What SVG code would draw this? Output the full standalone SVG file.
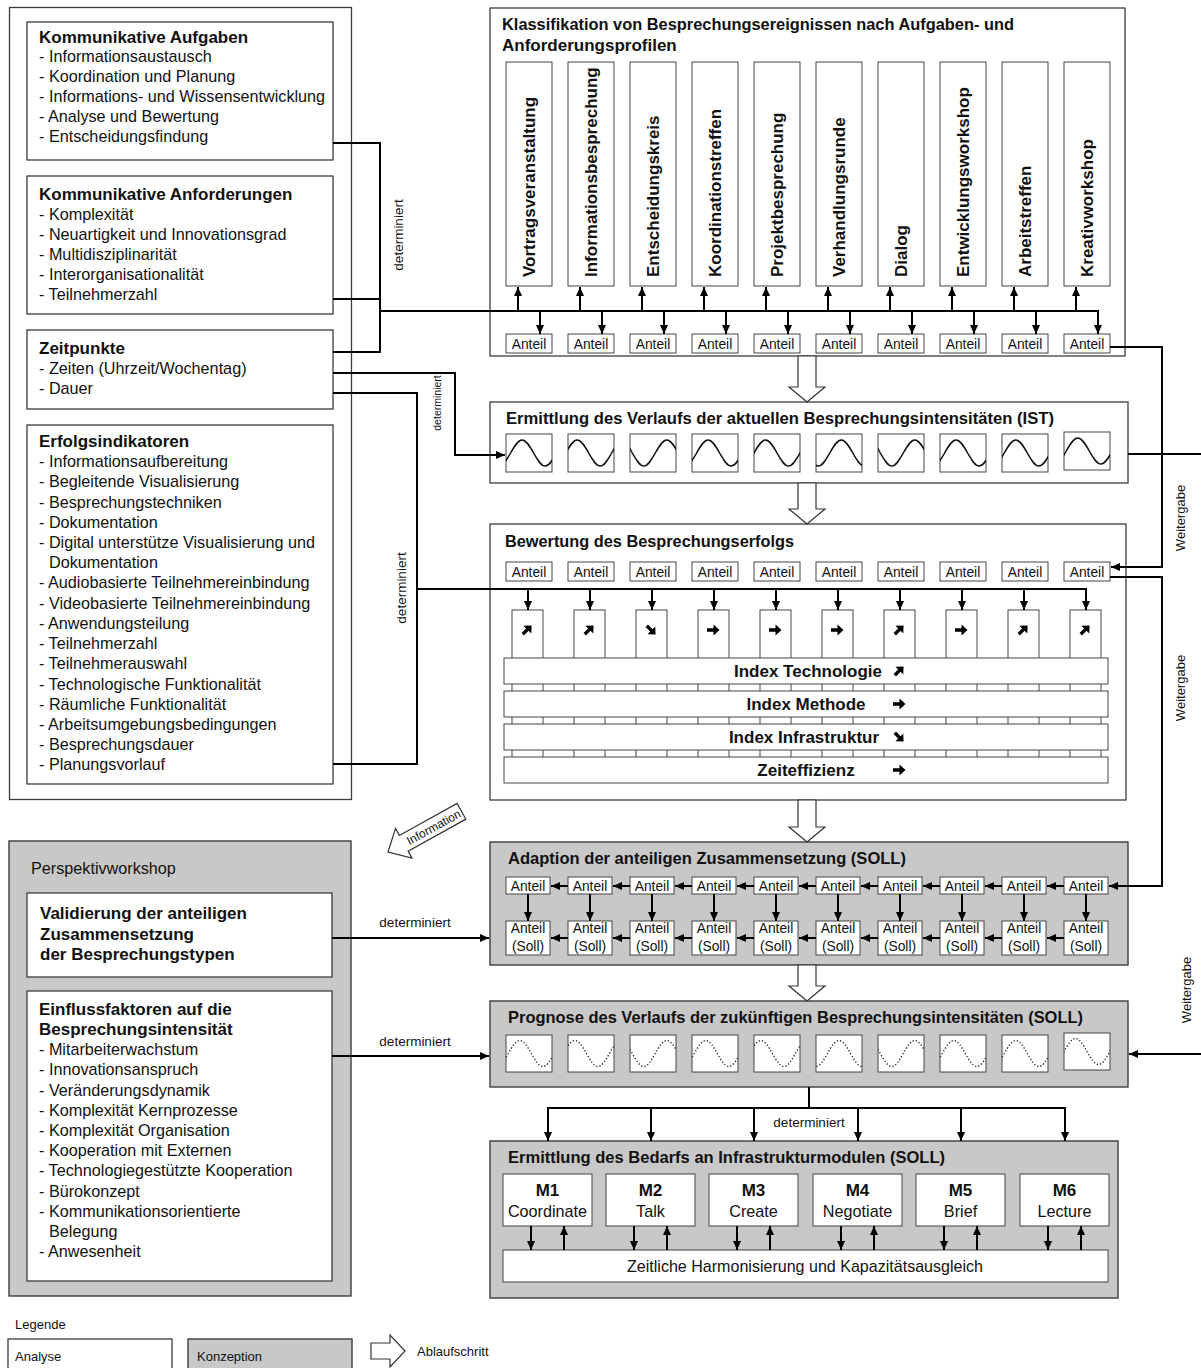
<svg xmlns="http://www.w3.org/2000/svg" width="1201" height="1368" viewBox="0 0 1201 1368">
<style>
text{font-family:"Liberation Sans",Arial,sans-serif;fill:#111}
.b{font-size:17px;font-weight:bold}
.r{font-size:16.2px}
.a{font-size:13px}
.an{font-size:13.8px}
.lab{font-size:13.5px}
.c{text-anchor:middle}
.box{fill:#fff;stroke:#3c3c3c;stroke-width:1.3}
.grey{fill:#c8c8c8;stroke:#3c3c3c;stroke-width:1.4}
.sm{fill:#fff;stroke:#444;stroke-width:1}
.ln{fill:none;stroke:#000;stroke-width:2}
.arr{fill:none;stroke:#000;stroke-width:2;marker-end:url(#ah)}
.blk{fill:#fff;stroke:#333;stroke-width:1.2}
.wv{fill:none;stroke:#111;stroke-width:1.5}
.wd{fill:none;stroke:#222;stroke-width:1.3;stroke-dasharray:1.3 2}
.ico{fill:#000}
</style>
<defs>
<marker id="ah" viewBox="0 0 9 8" refX="9" refY="4" markerWidth="9" markerHeight="8" markerUnits="userSpaceOnUse" orient="auto"><path d="M0,0 L9,4 L0,8 z" fill="#000"/></marker>
<path id="sine" d="M0,-13 c8.3,0 14.7,26 23,26 c8.3,0 14.7,-26 23,-26 c8.3,0 14.7,26 23,26 c8.3,0 14.7,-26 23,-26 c8.3,0 14.7,26 23,26 c8.3,0 14.7,-26 23,-26"/>
<polygon id="arrE" points="-6,-1.7 0.5,-1.7 0.5,-5.5 6.5,0 0.5,5.5 0.5,1.7 -6,1.7"/>
</defs>

<!-- Analyse: input catalogue (left) -->
<g id="eingangsgroessen">
<rect class="box" x="9.5" y="7.5" width="342" height="792" stroke="#555"/>
</g>
<g id="kommunikative-aufgaben">
<rect class="box" x="27" y="22" width="306" height="138"/>
<text class="b" x="39" y="43">Kommunikative Aufgaben</text>
<text class="r" x="39" y="62">- Informationsaustausch</text>
<text class="r" x="39" y="82">- Koordination und Planung</text>
<text class="r" x="39" y="102">- Informations- und Wissensentwicklung</text>
<text class="r" x="39" y="122">- Analyse und Bewertung</text>
<text class="r" x="39" y="142">- Entscheidungsfindung</text>
</g>
<g id="kommunikative-anforderungen">
<rect class="box" x="27" y="176" width="306" height="138"/>
<text class="b" x="39" y="200">Kommunikative Anforderungen</text>
<text class="r" x="39" y="220">- Komplexität</text>
<text class="r" x="39" y="240">- Neuartigkeit und Innovationsgrad</text>
<text class="r" x="39" y="260">- Multidisziplinarität</text>
<text class="r" x="39" y="280">- Interorganisationalität</text>
<text class="r" x="39" y="300">- Teilnehmerzahl</text>
</g>
<g id="zeitpunkte">
<rect class="box" x="27" y="330" width="306" height="79"/>
<text class="b" x="39" y="354">Zeitpunkte</text>
<text class="r" x="39" y="374">- Zeiten (Uhrzeit/Wochentag)</text>
<text class="r" x="39" y="394">- Dauer</text>
</g>
<g id="erfolgsindikatoren">
<rect class="box" x="27" y="425" width="306" height="359"/>
<text class="b" x="39" y="447">Erfolgsindikatoren</text>
<text class="r" x="39" y="467">- Informationsaufbereitung</text>
<text class="r" x="39" y="487">- Begleitende Visualisierung</text>
<text class="r" x="39" y="507.5">- Besprechungstechniken</text>
<text class="r" x="39" y="527.5">- Dokumentation</text>
<text class="r" x="39" y="548">- Digital unterstütze Visualisierung und</text>
<text class="r" x="49" y="568">Dokumentation</text>
<text class="r" x="39" y="588">- Audiobasierte Teilnehmereinbindung</text>
<text class="r" x="39" y="608.5">- Videobasierte Teilnehmereinbindung</text>
<text class="r" x="39" y="629">- Anwendungsteilung</text>
<text class="r" x="39" y="649">- Teilnehmerzahl</text>
<text class="r" x="39" y="669">- Teilnehmerauswahl</text>
<text class="r" x="39" y="689.5">- Technologische Funktionalität</text>
<text class="r" x="39" y="709.5">- Räumliche Funktionalität</text>
<text class="r" x="39" y="730">- Arbeitsumgebungsbedingungen</text>
<text class="r" x="39" y="750">- Besprechungsdauer</text>
<text class="r" x="39" y="770">- Planungsvorlauf</text>
</g>

<!-- Konzeption: workshop (left bottom) -->
<g id="perspektivworkshop">
<rect class="grey" x="9" y="841" width="342" height="455"/>
<text class="r" x="31" y="874">Perspektivworkshop</text>
</g>
<g id="validierung">
<rect class="box" x="27" y="893" width="305" height="84"/>
<text class="b" x="40" y="919">Validierung der anteiligen</text>
<text class="b" x="40" y="940">Zusammensetzung</text>
<text class="b" x="40" y="960">der Besprechungstypen</text>
</g>
<g id="einflussfaktoren">
<rect class="box" x="27" y="991" width="305" height="290"/>
<text class="b" x="39" y="1015">Einflussfaktoren auf die</text>
<text class="b" x="39" y="1035">Besprechungsintensität</text>
<text class="r" x="39" y="1055">- Mitarbeiterwachstum</text>
<text class="r" x="39" y="1075">- Innovationsanspruch</text>
<text class="r" x="39" y="1096">- Veränderungsdynamik</text>
<text class="r" x="39" y="1116">- Komplexität Kernprozesse</text>
<text class="r" x="39" y="1136">- Komplexität Organisation</text>
<text class="r" x="39" y="1156">- Kooperation mit Externen</text>
<text class="r" x="39" y="1176">- Technologiegestützte Kooperation</text>
<text class="r" x="39" y="1197">- Bürokonzept</text>
<text class="r" x="39" y="1217">- Kommunikationsorientierte</text>
<text class="r" x="49" y="1237">Belegung</text>
<text class="r" x="39" y="1257">- Anwesenheit</text>
</g>

<!-- Step 1: classification -->
<g id="klassifikation">
<rect class="box" x="490" y="8" width="635" height="348"/>
<text class="b" x="502" y="30" textLength="512" lengthAdjust="spacingAndGlyphs">Klassifikation von Besprechungsereignissen nach Aufgaben- und</text>
<text class="b" x="502" y="51">Anforderungsprofilen</text>
<rect class="sm" x="506" y="62" width="46" height="224"/>
<rect class="sm" x="568" y="62" width="46" height="224"/>
<rect class="sm" x="630" y="62" width="46" height="224"/>
<rect class="sm" x="692" y="62" width="46" height="224"/>
<rect class="sm" x="754" y="62" width="46" height="224"/>
<rect class="sm" x="816" y="62" width="46" height="224"/>
<rect class="sm" x="878" y="62" width="46" height="224"/>
<rect class="sm" x="940" y="62" width="46" height="224"/>
<rect class="sm" x="1002" y="62" width="46" height="224"/>
<rect class="sm" x="1064" y="62" width="46" height="224"/>
<text class="b" transform="translate(535,277) rotate(-90)">Vortragsveranstaltung</text>
<text class="b" transform="translate(597,277) rotate(-90)">Informationsbesprechung</text>
<text class="b" transform="translate(659,277) rotate(-90)">Entscheidungskreis</text>
<text class="b" transform="translate(721,277) rotate(-90)">Koordinationstreffen</text>
<text class="b" transform="translate(783,277) rotate(-90)">Projektbesprechung</text>
<text class="b" transform="translate(845,277) rotate(-90)">Verhandlungsrunde</text>
<text class="b" transform="translate(907,277) rotate(-90)">Dialog</text>
<text class="b" transform="translate(969,277) rotate(-90)">Entwicklungsworkshop</text>
<text class="b" transform="translate(1031,277) rotate(-90)">Arbeitstreffen</text>
<text class="b" transform="translate(1093,277) rotate(-90)">Kreativworkshop</text>
<rect class="sm" x="506" y="334" width="46" height="19"/><text class="an c" x="529" y="348.5">Anteil</text>
<rect class="sm" x="568" y="334" width="46" height="19"/><text class="an c" x="591" y="348.5">Anteil</text>
<rect class="sm" x="630" y="334" width="46" height="19"/><text class="an c" x="653" y="348.5">Anteil</text>
<rect class="sm" x="692" y="334" width="46" height="19"/><text class="an c" x="715" y="348.5">Anteil</text>
<rect class="sm" x="754" y="334" width="46" height="19"/><text class="an c" x="777" y="348.5">Anteil</text>
<rect class="sm" x="816" y="334" width="46" height="19"/><text class="an c" x="839" y="348.5">Anteil</text>
<rect class="sm" x="878" y="334" width="46" height="19"/><text class="an c" x="901" y="348.5">Anteil</text>
<rect class="sm" x="940" y="334" width="46" height="19"/><text class="an c" x="963" y="348.5">Anteil</text>
<rect class="sm" x="1002" y="334" width="46" height="19"/><text class="an c" x="1025" y="348.5">Anteil</text>
<rect class="sm" x="1064" y="334" width="46" height="19"/><text class="an c" x="1087" y="348.5">Anteil</text>
</g>

<!-- Step 2: current intensity curves -->
<g id="ist-verlauf">
<rect class="box" x="490" y="402" width="638" height="81"/>
<text class="b" x="506" y="424" textLength="548" lengthAdjust="spacingAndGlyphs">Ermittlung des Verlaufs der aktuellen Besprechungsintensitäten (IST)</text>
<rect class="sm" x="506" y="434" width="46" height="38"/><svg x="506" y="434" width="46" height="38" viewBox="0 0 46 38"><use href="#sine" x="-29.9" y="19" class="wv"/></svg>
<rect class="sm" x="568" y="434" width="46" height="38"/><svg x="568" y="434" width="46" height="38" viewBox="0 0 46 38"><use href="#sine" x="-36.8" y="19" class="wv"/></svg>
<rect class="sm" x="630" y="434" width="46" height="38"/><svg x="630" y="434" width="46" height="38" viewBox="0 0 46 38"><use href="#sine" x="-9.2" y="19" class="wv"/></svg>
<rect class="sm" x="692" y="434" width="46" height="38"/><svg x="692" y="434" width="46" height="38" viewBox="0 0 46 38"><use href="#sine" x="-29.9" y="19" class="wv"/></svg>
<rect class="sm" x="754" y="434" width="46" height="38"/><svg x="754" y="434" width="46" height="38" viewBox="0 0 46 38"><use href="#sine" x="-34.5" y="19" class="wv"/></svg>
<rect class="sm" x="816" y="434" width="46" height="38"/><svg x="816" y="434" width="46" height="38" viewBox="0 0 46 38"><use href="#sine" x="-20.7" y="19" class="wv"/></svg>
<rect class="sm" x="878" y="434" width="46" height="38"/><svg x="878" y="434" width="46" height="38" viewBox="0 0 46 38"><use href="#sine" x="-9.2" y="19" class="wv"/></svg>
<rect class="sm" x="940" y="434" width="46" height="38"/><svg x="940" y="434" width="46" height="38" viewBox="0 0 46 38"><use href="#sine" x="-29.9" y="19" class="wv"/></svg>
<rect class="sm" x="1002" y="434" width="46" height="38"/><svg x="1002" y="434" width="46" height="38" viewBox="0 0 46 38"><use href="#sine" x="-32.2" y="19" class="wv"/></svg>
<rect class="sm" x="1064" y="432" width="46" height="38"/><svg x="1064" y="432" width="46" height="38" viewBox="0 0 46 38"><use href="#sine" x="-32.2" y="19" class="wv"/></svg>
</g>

<!-- Step 3: evaluation -->
<g id="bewertung">
<rect class="box" x="490" y="524" width="636" height="276"/>
<text class="b" x="505" y="547" textLength="289" lengthAdjust="spacingAndGlyphs">Bewertung des Besprechungserfolgs</text>
<rect class="sm" x="506" y="562" width="46" height="19"/><text class="an c" x="529" y="576.5">Anteil</text>
<rect class="sm" x="568" y="562" width="46" height="19"/><text class="an c" x="591" y="576.5">Anteil</text>
<rect class="sm" x="630" y="562" width="46" height="19"/><text class="an c" x="653" y="576.5">Anteil</text>
<rect class="sm" x="692" y="562" width="46" height="19"/><text class="an c" x="715" y="576.5">Anteil</text>
<rect class="sm" x="754" y="562" width="46" height="19"/><text class="an c" x="777" y="576.5">Anteil</text>
<rect class="sm" x="816" y="562" width="46" height="19"/><text class="an c" x="839" y="576.5">Anteil</text>
<rect class="sm" x="878" y="562" width="46" height="19"/><text class="an c" x="901" y="576.5">Anteil</text>
<rect class="sm" x="940" y="562" width="46" height="19"/><text class="an c" x="963" y="576.5">Anteil</text>
<rect class="sm" x="1002" y="562" width="46" height="19"/><text class="an c" x="1025" y="576.5">Anteil</text>
<rect class="sm" x="1064" y="562" width="46" height="19"/><text class="an c" x="1087" y="576.5">Anteil</text>
<rect class="sm" x="512" y="610" width="31" height="160"/>
<rect class="sm" x="574" y="610" width="31" height="160"/>
<rect class="sm" x="636" y="610" width="31" height="160"/>
<rect class="sm" x="698" y="610" width="31" height="160"/>
<rect class="sm" x="760" y="610" width="31" height="160"/>
<rect class="sm" x="822" y="610" width="31" height="160"/>
<rect class="sm" x="884" y="610" width="31" height="160"/>
<rect class="sm" x="946" y="610" width="31" height="160"/>
<rect class="sm" x="1008" y="610" width="31" height="160"/>
<rect class="sm" x="1070" y="610" width="31" height="160"/>
<use href="#arrE" class="ico" transform="translate(527,630) rotate(-45)"/>
<use href="#arrE" class="ico" transform="translate(589,630) rotate(-45)"/>
<use href="#arrE" class="ico" transform="translate(651,630) rotate(45)"/>
<use href="#arrE" class="ico" transform="translate(713,630)"/>
<use href="#arrE" class="ico" transform="translate(775,630)"/>
<use href="#arrE" class="ico" transform="translate(837,630)"/>
<use href="#arrE" class="ico" transform="translate(899,630) rotate(-45)"/>
<use href="#arrE" class="ico" transform="translate(961,630)"/>
<use href="#arrE" class="ico" transform="translate(1023,630) rotate(-45)"/>
<use href="#arrE" class="ico" transform="translate(1085,630) rotate(-45)"/>
<rect class="sm" x="504" y="658" width="604" height="26"/>
<rect class="sm" x="504" y="691" width="604" height="26"/>
<rect class="sm" x="504" y="724" width="604" height="26"/>
<rect class="sm" x="504" y="757" width="604" height="26"/>
<text class="b c" x="808" y="677">Index Technologie</text>
<text class="b c" x="806" y="710">Index Methode</text>
<text class="b c" x="804" y="743">Index Infrastruktur</text>
<text class="b c" x="806" y="776">Zeiteffizienz</text>
<use href="#arrE" class="ico" transform="translate(899,671) rotate(-45)"/>
<use href="#arrE" class="ico" transform="translate(899,704)"/>
<use href="#arrE" class="ico" transform="translate(899,737) rotate(45)"/>
<use href="#arrE" class="ico" transform="translate(899,770)"/>
</g>

<!-- Step 4: target composition -->
<g id="adaption">
<rect class="grey" x="490" y="842" width="638" height="123"/>
<text class="b" x="508" y="864" textLength="398" lengthAdjust="spacingAndGlyphs">Adaption der anteiligen Zusammensetzung (SOLL)</text>
<rect class="sm" x="506" y="877" width="44" height="17"/><text class="an c" x="528" y="890.5">Anteil</text>
<rect class="sm" x="568" y="877" width="44" height="17"/><text class="an c" x="590" y="890.5">Anteil</text>
<rect class="sm" x="630" y="877" width="44" height="17"/><text class="an c" x="652" y="890.5">Anteil</text>
<rect class="sm" x="692" y="877" width="44" height="17"/><text class="an c" x="714" y="890.5">Anteil</text>
<rect class="sm" x="754" y="877" width="44" height="17"/><text class="an c" x="776" y="890.5">Anteil</text>
<rect class="sm" x="816" y="877" width="44" height="17"/><text class="an c" x="838" y="890.5">Anteil</text>
<rect class="sm" x="878" y="877" width="44" height="17"/><text class="an c" x="900" y="890.5">Anteil</text>
<rect class="sm" x="940" y="877" width="44" height="17"/><text class="an c" x="962" y="890.5">Anteil</text>
<rect class="sm" x="1002" y="877" width="44" height="17"/><text class="an c" x="1024" y="890.5">Anteil</text>
<rect class="sm" x="1064" y="877" width="44" height="17"/><text class="an c" x="1086" y="890.5">Anteil</text>
<rect class="sm" x="506" y="921" width="44" height="34"/><text class="an c" x="528" y="933">Anteil</text><text class="an c" x="528" y="951">(Soll)</text>
<rect class="sm" x="568" y="921" width="44" height="34"/><text class="an c" x="590" y="933">Anteil</text><text class="an c" x="590" y="951">(Soll)</text>
<rect class="sm" x="630" y="921" width="44" height="34"/><text class="an c" x="652" y="933">Anteil</text><text class="an c" x="652" y="951">(Soll)</text>
<rect class="sm" x="692" y="921" width="44" height="34"/><text class="an c" x="714" y="933">Anteil</text><text class="an c" x="714" y="951">(Soll)</text>
<rect class="sm" x="754" y="921" width="44" height="34"/><text class="an c" x="776" y="933">Anteil</text><text class="an c" x="776" y="951">(Soll)</text>
<rect class="sm" x="816" y="921" width="44" height="34"/><text class="an c" x="838" y="933">Anteil</text><text class="an c" x="838" y="951">(Soll)</text>
<rect class="sm" x="878" y="921" width="44" height="34"/><text class="an c" x="900" y="933">Anteil</text><text class="an c" x="900" y="951">(Soll)</text>
<rect class="sm" x="940" y="921" width="44" height="34"/><text class="an c" x="962" y="933">Anteil</text><text class="an c" x="962" y="951">(Soll)</text>
<rect class="sm" x="1002" y="921" width="44" height="34"/><text class="an c" x="1024" y="933">Anteil</text><text class="an c" x="1024" y="951">(Soll)</text>
<rect class="sm" x="1064" y="921" width="44" height="34"/><text class="an c" x="1086" y="933">Anteil</text><text class="an c" x="1086" y="951">(Soll)</text>
</g>

<!-- Step 5: forecast curves -->
<g id="prognose">
<rect class="grey" x="490" y="1001" width="638" height="86"/>
<text class="b" x="508" y="1023" textLength="575" lengthAdjust="spacingAndGlyphs">Prognose des Verlaufs der zukünftigen Besprechungsintensitäten (SOLL)</text>
<rect class="sm" x="506" y="1035" width="46" height="37"/><svg x="506" y="1035" width="46" height="37" viewBox="0 0 46 37"><use href="#sine" x="-32.2" y="18.5" class="wd"/></svg>
<rect class="sm" x="568" y="1035" width="46" height="37"/><svg x="568" y="1035" width="46" height="37" viewBox="0 0 46 37"><use href="#sine" x="-39.1" y="18.5" class="wd"/></svg>
<rect class="sm" x="630" y="1035" width="46" height="37"/><svg x="630" y="1035" width="46" height="37" viewBox="0 0 46 37"><use href="#sine" x="-9.2" y="18.5" class="wd"/></svg>
<rect class="sm" x="692" y="1035" width="46" height="37"/><svg x="692" y="1035" width="46" height="37" viewBox="0 0 46 37"><use href="#sine" x="-32.2" y="18.5" class="wd"/></svg>
<rect class="sm" x="754" y="1035" width="46" height="37"/><svg x="754" y="1035" width="46" height="37" viewBox="0 0 46 37"><use href="#sine" x="-39.1" y="18.5" class="wd"/></svg>
<rect class="sm" x="816" y="1035" width="46" height="37"/><svg x="816" y="1035" width="46" height="37" viewBox="0 0 46 37"><use href="#sine" x="-23" y="18.5" class="wd"/></svg>
<rect class="sm" x="878" y="1035" width="46" height="37"/><svg x="878" y="1035" width="46" height="37" viewBox="0 0 46 37"><use href="#sine" x="-9.2" y="18.5" class="wd"/></svg>
<rect class="sm" x="940" y="1035" width="46" height="37"/><svg x="940" y="1035" width="46" height="37" viewBox="0 0 46 37"><use href="#sine" x="-32.2" y="18.5" class="wd"/></svg>
<rect class="sm" x="1002" y="1035" width="46" height="37"/><svg x="1002" y="1035" width="46" height="37" viewBox="0 0 46 37"><use href="#sine" x="-32.2" y="18.5" class="wd"/></svg>
<rect class="sm" x="1064" y="1033" width="46" height="37"/><svg x="1064" y="1033" width="46" height="37" viewBox="0 0 46 37"><use href="#sine" x="-34.5" y="18.5" class="wd"/></svg>
</g>

<!-- Step 6: infrastructure modules -->
<g id="infrastrukturmodule">
<rect class="grey" x="490" y="1141" width="628" height="157"/>
<text class="b" x="508" y="1163" textLength="437" lengthAdjust="spacingAndGlyphs">Ermittlung des Bedarfs an Infrastrukturmodulen (SOLL)</text>
<rect class="sm" x="503" y="1174" width="89" height="52"/><text class="b c" x="547.5" y="1196">M1</text><text class="r c" x="547.5" y="1216.5" font-size="16.5">Coordinate</text>
<rect class="sm" x="606" y="1174" width="89" height="52"/><text class="b c" x="650.5" y="1196">M2</text><text class="r c" x="650.5" y="1216.5" font-size="16.5">Talk</text>
<rect class="sm" x="709" y="1174" width="89" height="52"/><text class="b c" x="753.5" y="1196">M3</text><text class="r c" x="753.5" y="1216.5" font-size="16.5">Create</text>
<rect class="sm" x="813" y="1174" width="89" height="52"/><text class="b c" x="857.5" y="1196">M4</text><text class="r c" x="857.5" y="1216.5" font-size="16.5">Negotiate</text>
<rect class="sm" x="916" y="1174" width="89" height="52"/><text class="b c" x="960.5" y="1196">M5</text><text class="r c" x="960.5" y="1216.5" font-size="16.5">Brief</text>
<rect class="sm" x="1020" y="1174" width="89" height="52"/><text class="b c" x="1064.5" y="1196">M6</text><text class="r c" x="1064.5" y="1216.5" font-size="16.5">Lecture</text>
<rect class="sm" x="503" y="1250" width="605" height="32"/>
<text class="r c" x="805" y="1271.5" font-size="16.5" textLength="356" lengthAdjust="spacingAndGlyphs">Zeitliche Harmonisierung und Kapazitätsausgleich</text>
</g>

<!-- process-step block arrows -->
<g id="ablaufschritte">
<path class="blk" d="M798,356 V387 H789 L807,402 L825,387 H816 V356 z"/>
<path class="blk" d="M798,483 V509 H789 L807,524 L825,509 H816 V483 z"/>
<path class="blk" d="M798,800 V827 H789 L807,842 L825,827 H816 V800 z"/>
<path class="blk" d="M798,965 V986 H789 L807,1001 L825,986 H816 V965 z"/>
</g>
<g id="information">
<polygon class="blk" points="0,0 18,-17 18,-9 84,-9 84,9 18,9 18,17" transform="translate(388,852) rotate(-29)"/>
<text class="c" font-size="12" transform="translate(388,852) rotate(-29)" x="52" y="4.5">Information</text>
</g>

<!-- connectors -->
<g id="connectors">
<path class="ln" d="M333,143 H380 V352 H333 M333,299 H380 M380,311 H1098"/>
<path class="arr" d="M518,311 V287"/><path class="arr" d="M580,311 V287"/><path class="arr" d="M642,311 V287"/><path class="arr" d="M704,311 V287"/><path class="arr" d="M766,311 V287"/>
<path class="arr" d="M828,311 V287"/><path class="arr" d="M890,311 V287"/><path class="arr" d="M952,311 V287"/><path class="arr" d="M1014,311 V287"/><path class="arr" d="M1076,311 V287"/>
<path class="arr" d="M540,310 V334"/><path class="arr" d="M602,310 V334"/><path class="arr" d="M664,310 V334"/><path class="arr" d="M726,310 V334"/><path class="arr" d="M788,310 V334"/>
<path class="arr" d="M850,310 V334"/><path class="arr" d="M912,310 V334"/><path class="arr" d="M974,310 V334"/><path class="arr" d="M1036,310 V334"/><path class="arr" d="M1098,310 V334"/>
<path class="arr" d="M333,373 H455 V455 H505"/>
<path class="ln" d="M333,393 H417 V764 H333 M417,589 H1087"/>
<path class="arr" d="M528,588 V610"/><path class="arr" d="M590,588 V610"/><path class="arr" d="M652,588 V610"/><path class="arr" d="M714,588 V610"/><path class="arr" d="M776,588 V610"/>
<path class="arr" d="M838,588 V610"/><path class="arr" d="M900,588 V610"/><path class="arr" d="M962,588 V610"/><path class="arr" d="M1024,588 V610"/><path class="arr" d="M1086,588 V610"/>
<path class="arr" d="M1110,347 H1162 V567 H1111"/>
<path class="arr" d="M1110,577 H1162 V886 H1109"/>
<path class="ln" d="M1128,454 H1201"/>
<path class="arr" d="M1201,1054 H1129"/>
<path class="arr" d="M568,886 H551"/><path class="arr" d="M630,886 H613"/><path class="arr" d="M692,886 H675"/><path class="arr" d="M754,886 H737"/><path class="arr" d="M816,886 H799"/>
<path class="arr" d="M878,886 H861"/><path class="arr" d="M940,886 H923"/><path class="arr" d="M1002,886 H985"/><path class="arr" d="M1064,886 H1047"/>
<path class="arr" d="M528,894 V921"/><path class="arr" d="M590,894 V921"/><path class="arr" d="M652,894 V921"/><path class="arr" d="M714,894 V921"/><path class="arr" d="M776,894 V921"/>
<path class="arr" d="M838,894 V921"/><path class="arr" d="M900,894 V921"/><path class="arr" d="M962,894 V921"/><path class="arr" d="M1024,894 V921"/><path class="arr" d="M1086,894 V921"/>
<path class="arr" d="M568,938 H551"/><path class="arr" d="M630,938 H613"/><path class="arr" d="M692,938 H675"/><path class="arr" d="M754,938 H737"/><path class="arr" d="M816,938 H799"/>
<path class="arr" d="M878,938 H861"/><path class="arr" d="M940,938 H923"/><path class="arr" d="M1002,938 H985"/><path class="arr" d="M1064,938 H1047"/>
<path class="arr" d="M332,938 H489"/>
<path class="arr" d="M332,1056 H489"/>
<path class="ln" d="M809,1087 V1108 M547,1108 H1066"/>
<path class="arr" d="M548,1107 V1141"/><path class="arr" d="M651,1107 V1141"/><path class="arr" d="M754,1107 V1141"/><path class="arr" d="M858,1107 V1141"/><path class="arr" d="M961,1107 V1141"/><path class="arr" d="M1065,1107 V1141"/>
<path class="arr" d="M531,1226 V1250"/><path class="arr" d="M564,1250 V1226"/>
<path class="arr" d="M634,1226 V1250"/><path class="arr" d="M667,1250 V1226"/>
<path class="arr" d="M737,1226 V1250"/><path class="arr" d="M770,1250 V1226"/>
<path class="arr" d="M841,1226 V1250"/><path class="arr" d="M874,1250 V1226"/>
<path class="arr" d="M944,1226 V1250"/><path class="arr" d="M977,1250 V1226"/>
<path class="arr" d="M1048,1226 V1250"/><path class="arr" d="M1081,1250 V1226"/>
<text class="lab c" transform="translate(403,235) rotate(-90)">determiniert</text>
<text class="c" font-size="10.5" transform="translate(441,403) rotate(-90)">determiniert</text>
<text class="lab c" transform="translate(406,588) rotate(-90)">determiniert</text>
<text class="lab c" x="415" y="927">determiniert</text>
<text class="lab c" x="415" y="1046">determiniert</text>
<text class="lab c" x="809" y="1127">determiniert</text>
<text class="a c" transform="translate(1185,518) rotate(-90)">Weitergabe</text>
<text class="a c" transform="translate(1185,688) rotate(-90)">Weitergabe</text>
<text class="a c" transform="translate(1191,990) rotate(-90)">Weitergabe</text>
</g>

<!-- legend -->
<g id="legende">
<text class="a" x="15" y="1329">Legende</text>
<rect class="box" x="8" y="1339" width="164" height="40" stroke="#444"/>
<text class="a" x="15" y="1361">Analyse</text>
<rect class="grey" x="188" y="1339" width="164" height="40" fill="#c0c0c0"/>
<text class="a" x="197" y="1361">Konzeption</text>
<path class="blk" d="M371,1343 H390 V1335 L405,1351 L390,1367 V1359 H371 z"/>
<text class="a" x="417" y="1356">Ablaufschritt</text>
</g>
</svg>
